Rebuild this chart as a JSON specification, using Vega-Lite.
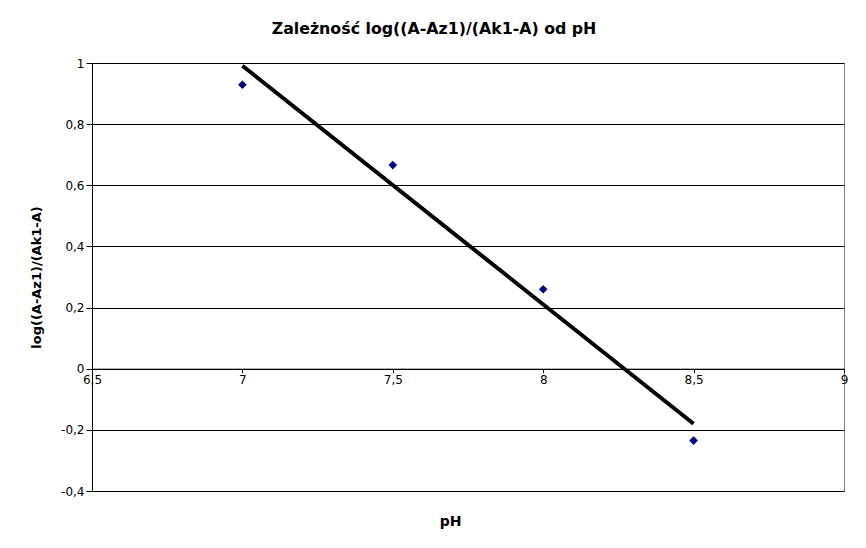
{
  "$schema": "https://vega.github.io/schema/vega-lite/v6.json",
  "autosize": {"type": "none"},
  "width": 752,
  "height": 428,
  "padding": {"left": 92, "top": 63, "right": 22, "bottom": 57},
  "background": "white",
  "title": {
    "text": "Zależność log((A-Az1)/(Ak1-A) od pH",
    "font": "DejaVu Sans",
    "fontSize": 15.8,
    "fontWeight": "bold",
    "color": "black",
    "anchor": "middle",
    "dx": -34,
    "offset": 19
  },
  "config": {
    "view": {"stroke": "#808080", "strokeWidth": 1},
    "axis": {
      "labelFont": "DejaVu Sans",
      "titleFont": "DejaVu Sans",
      "labelColor": "black",
      "titleColor": "black",
      "labelFontSize": 12,
      "titleFontSize": 13,
      "titleFontWeight": "bold",
      "domainColor": "black",
      "tickColor": "black",
      "gridColor": "black",
      "gridOpacity": 1,
      "domainWidth": 1,
      "tickWidth": 1,
      "labelFlush": false,
      "labelOverlap": false
    }
  },
  "layer": [
    {
      "data": {"values": [
        {"pH": 7.0, "val": 0.929},
        {"pH": 7.5, "val": 0.666},
        {"pH": 8.0, "val": 0.26},
        {"pH": 8.5, "val": -0.235}
      ]},
      "mark": {"type": "point", "shape": "diamond", "filled": true, "size": 75, "color": "#000080", "opacity": 1},
      "encoding": {
        "x": {
          "field": "pH", "type": "quantitative",
          "scale": {"domain": [6.5, 9], "nice": false, "zero": false},
          "axis": {
            "title": "pH",
            "values": [6.5, 7, 7.5, 8, 8.5, 9],
            "grid": false,
            "offset": -122.3,
            "tickSize": 4,
            "labelPadding": 2,
            "labelExpr": "replace(format(datum.value, '~g'), '.', ',')",
            "titleX": 358,
            "titleY": 153,
            "titleAlign": "center",
            "titleBaseline": "middle",
            "titleFontSize": 14
          }
        },
        "y": {
          "field": "val", "type": "quantitative",
          "scale": {"domain": [-0.4, 1], "nice": false, "zero": false},
          "axis": {
            "title": "log((A-Az1)/(Ak1-A)",
            "values": [-0.4, -0.2, 0, 0.2, 0.4, 0.6, 0.8, 1],
            "grid": true,
            "tickSize": 6,
            "labelPadding": 2,
            "labelExpr": "replace(replace(format(datum.value, '~g'), '.', ','), '\u2212', '-')",
            "titlePadding": 17
          }
        }
      }
    },
    {
      "data": {"values": [
        {"pH": 7.0, "val": 0.991},
        {"pH": 8.5, "val": -0.18}
      ]},
      "mark": {"type": "line", "color": "black", "strokeWidth": 4},
      "encoding": {
        "x": {"field": "pH", "type": "quantitative"},
        "y": {"field": "val", "type": "quantitative"}
      }
    }
  ]
}
